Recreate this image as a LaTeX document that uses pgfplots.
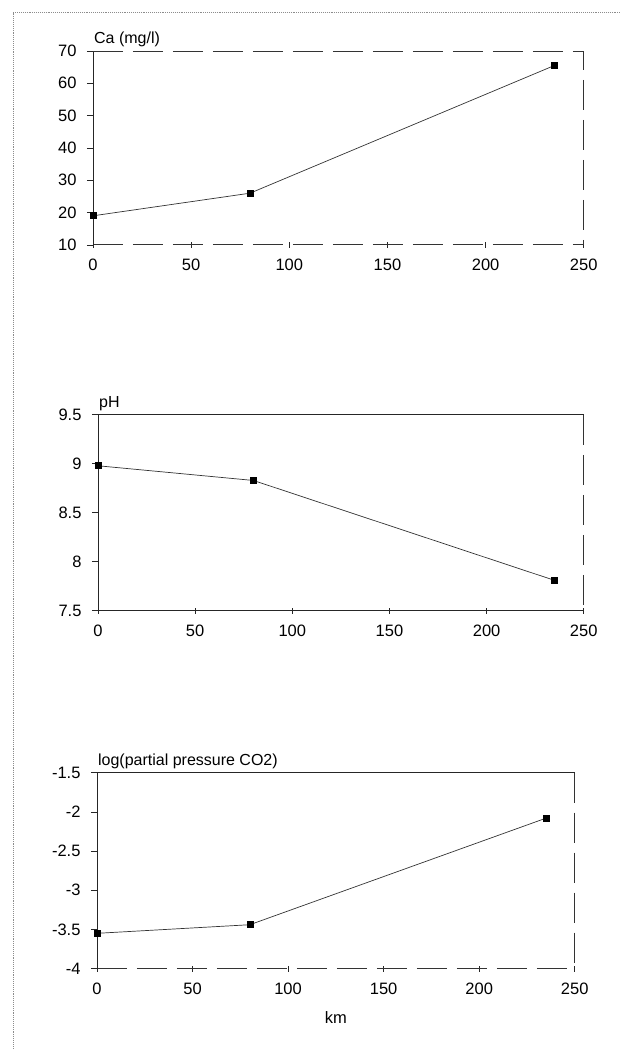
\documentclass[border=0pt]{standalone}
\usepackage{fontspec}
\setmainfont{Liberation Sans}
\usepackage{pgfplots}
\pgfplotsset{compat=1.18}

\pgfplotsset{
  panel/.style={
    scale only axis,
    axis x line*=bottom,
    axis y line*=left,
    xmin=0, xmax=250,
    xtick={0,50,100,150,200,250},
    tick label style={font=\fontsize{16.5}{19}\selectfont},
    /pgf/number format/assume math mode=true,
    every axis title/.style={anchor=south west, at={(rel axis cs:0,1)},
      font=\fontsize{16}{19}\selectfont, inner sep=1pt, yshift=3pt},
    y tick label style={xshift=-7pt},
    x tick label style={yshift=-8pt},
    major tick length=6pt,
    xtick align=center,
    ytick align=outside,
    tick style={black!85, line width=0.7pt},
    axis line style={black!85, line width=0.8pt},
    clip=false,
  },
  series/.style={black!80, line width=0.7pt, mark=square*, mark size=3pt,
    mark options={fill=black, draw=black, solid}},
}
\tikzset{longdash/.style={black!80, line width=0.8pt, dash pattern=on 30pt off 10pt}}

\begin{document}
\begin{tikzpicture}
  % page frame
  \path (0pt,0pt) rectangle (620pt,-1049pt);
  \draw[black!45, line width=0.9pt, densely dotted] (13pt,-1049pt) -- (13pt,-12pt) -- (620pt,-12pt);

  % Ca panel
  \begin{axis}[panel, at={(93pt,-245pt)}, anchor=south west,
      width=491pt, height=194pt,
      ymin=10, ymax=70, ytick={10,20,30,40,50,60,70},
      title={Ca (mg/l)},
      x axis line style={longdash}]
    \addplot[series] coordinates {(0,19) (80,26) (235,65.5)};
    \draw[longdash] (rel axis cs:0,1) -- (rel axis cs:1,1) -- (rel axis cs:1,0);
  \end{axis}

  % pH panel
  \begin{axis}[panel, at={(98pt,-611pt)}, anchor=south west,
      width=486pt, height=196pt,
      ymin=7.5, ymax=9.5, ytick={7.5,8,8.5,9,9.5},
      title={pH}]
    \addplot[series] coordinates {(0,8.98) (80,8.83) (235,7.81)};
    \draw[black!85, line width=0.8pt] (rel axis cs:0,1) -- (rel axis cs:1,1);
    \draw[longdash] (rel axis cs:1,1) -- (rel axis cs:1,0);
  \end{axis}

  % CO2 panel
  \begin{axis}[panel, at={(97pt,-969pt)}, anchor=south west,
      width=478pt, height=196pt,
      ymin=-4, ymax=-1.5, ytick={-4,-3.5,-3,-2.5,-2,-1.5},
      yticklabels={-4,-3.5,-3,-2.5,-2,-1.5},
      title={log(partial pressure CO2)},
      xlabel={km},
      xlabel style={font=\fontsize{16.5}{19}\selectfont, yshift=-10pt},
      x axis line style={longdash}]
    \addplot[series] coordinates {(0,-3.55) (80,-3.44) (235,-2.08)};
    \draw[black!85, line width=0.8pt] (rel axis cs:0,1) -- (rel axis cs:1,1);
    \draw[longdash] (rel axis cs:1,1) -- (rel axis cs:1,0);
  \end{axis}
\end{tikzpicture}
\end{document}
